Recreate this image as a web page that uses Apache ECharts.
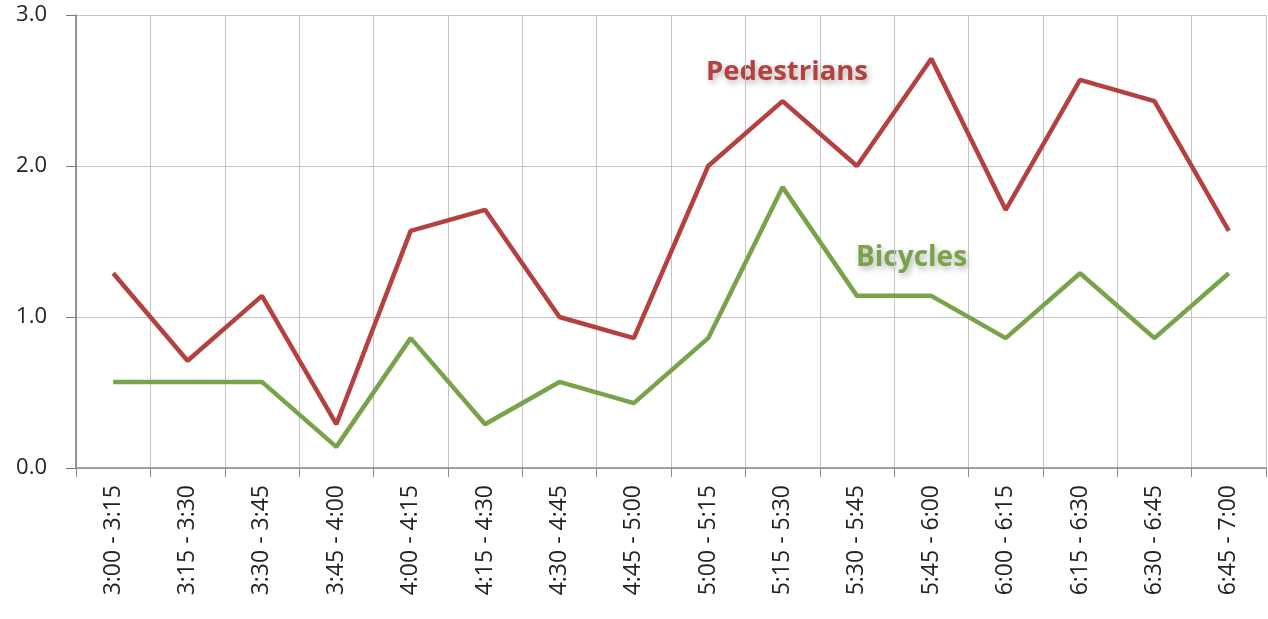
<!DOCTYPE html>
<html><head><meta charset="utf-8">
<script src="https://cdn.jsdelivr.net/npm/echarts@6/dist/echarts.min.js"></script>
<style>html,body{margin:0;padding:0;background:#fff}#c{width:1268px;height:619px}</style>
</head><body><div id="c"></div>
<script>
const categories = ["3:00 - 3:15","3:15 - 3:30","3:30 - 3:45","3:45 - 4:00","4:00 - 4:15","4:15 - 4:30","4:30 - 4:45","4:45 - 5:00","5:00 - 5:15","5:15 - 5:30","5:30 - 5:45","5:45 - 6:00","6:00 - 6:15","6:15 - 6:30","6:30 - 6:45","6:45 - 7:00"];
const pedestrians = [1.29,0.71,1.14,0.29,1.57,1.71,1.0,0.86,2.0,2.43,2.0,2.71,1.71,2.57,2.43,1.57];
const bicycles = [0.57,0.57,0.57,0.14,0.86,0.29,0.57,0.43,0.86,1.86,1.14,1.14,0.86,1.29,0.86,1.29];
const yTicks = ["0.0","1.0","2.0","3.0"];

const chart = echarts.init(document.getElementById('c'));
const font = "'Open Sans', 'Noto Sans', sans-serif";
chart.setOption({
  animation:false,
  grid:{left:76,right:2,top:15,bottom:151,containLabel:false},
  xAxis:{type:'category',data:categories,boundaryGap:true,
    axisLine:{lineStyle:{color:'#8a8a8a',width:1.5}},
    axisTick:{show:true,length:9,interval:0,lineStyle:{color:'#8a8a8a'}},
    splitLine:{show:true,interval:0,lineStyle:{color:'#c4c4c4',width:1}},
    axisLabel:{rotate:90,interval:0,margin:17,fontSize:23,color:'#222',fontFamily:font}},
  yAxis:{type:'value',min:0,max:3,interval:1,
    axisLine:{show:true,lineStyle:{color:'#7a7a7a',width:1.5}},
    axisTick:{show:true,length:10,lineStyle:{color:'#7a7a7a'}},
    splitLine:{show:true,lineStyle:{color:'#c4c4c4',width:1}},
    axisLabel:{margin:29,fontSize:22,color:'#222',fontFamily:font,
      formatter:v=>yTicks[Math.round(v)]}},
  series:[
    {name:'Pedestrians',type:'line',data:pedestrians,symbol:'none',
     lineStyle:{color:'#b4413f',width:4.5},z:3},
    {name:'Bicycles',type:'line',data:bicycles,symbol:'none',
     lineStyle:{color:'#79a34b',width:4.5},z:2}
  ],
  graphic:[
    {type:'text',left:706,top:58,style:{text:'Pedestrians',fill:'#b4413f',font:'bold 27.5px '+font,
      textShadowColor:'rgba(0,0,0,0.3)',textShadowBlur:6,textShadowOffsetX:2,textShadowOffsetY:3}},
    {type:'text',left:856,top:244,style:{text:'Bicycles',fill:'#79a34b',font:'bold 28px '+font,
      textShadowColor:'rgba(0,0,0,0.3)',textShadowBlur:6,textShadowOffsetX:2,textShadowOffsetY:3}}
  ]
});
</script></body></html>
